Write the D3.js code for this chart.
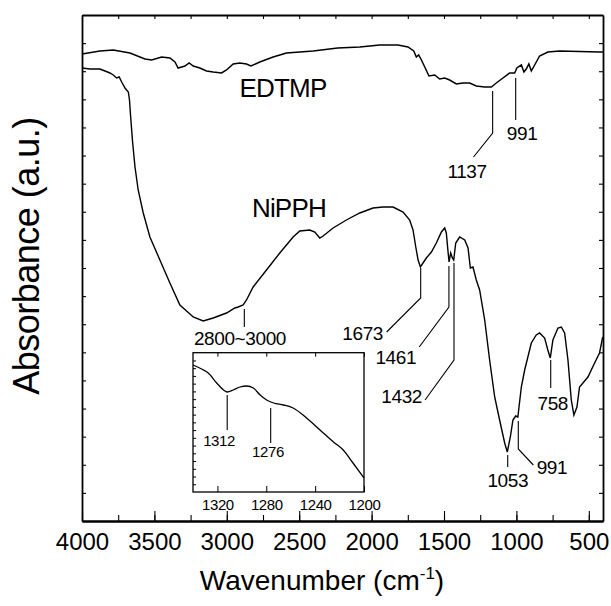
<!DOCTYPE html>
<html>
<head>
<meta charset="utf-8">
<script src="https://cdn.jsdelivr.net/npm/d3@7"></script>
<style>
body { margin: 0; background: #fff; }
text { font-family: "Liberation Sans", Arial, sans-serif; fill: #000; }
</style>
</head>
<body>
<svg id="drawing_region"></svg>
<script>
// EDTMP spectrum (wavenumber / absorbance a.u.)
const edtmpWn = [4000,3876,3784,3669,3565,3519,3450,3393,3358,3336,3312,3289,3260,3232,3186,3140,3094,3036,3002,2956,
  2910,2864,2834,2772,2680,2588,2496,2404,2234,2082,1944,1818,1749,1709,1691,1675,1656,1633,1604,1564,
  1530,1495,1461,1415,1369,1323,1277,1219,1173,1139,1093,1047,1012,997,966,948,932,914,897,874,
  840,783,702,426,402];
const edtmpAbs = [4.67,4.70,4.71,4.68,4.62,4.61,4.64,4.63,4.59,4.53,4.54,4.55,4.58,4.55,4.53,4.50,4.49,4.48,4.51,4.57,
  4.58,4.57,4.55,4.59,4.64,4.68,4.69,4.70,4.73,4.74,4.76,4.76,4.74,4.70,4.64,4.66,4.61,4.54,4.45,4.46,
  4.42,4.43,4.41,4.37,4.38,4.38,4.35,4.34,4.34,4.38,4.43,4.48,4.48,4.53,4.56,4.49,4.52,4.57,4.50,4.56,
  4.65,4.69,4.70,4.69,4.69];

// NiPPH spectrum
const nipphWn = [4000,3945,3876,3841,3807,3784,3761,3743,3726,3703,3692,3680,3672,3664,3650,3634,3612,3577,3531,3462,
  3393,3324,3232,3163,3094,3002,2944,2922,2887,2864,2818,2726,2634,2542,2496,2427,2392,2358,2335,2266,
  2174,2082,1990,1921,1852,1783,1737,1714,1695,1679,1663,1645,1622,1587,1553,1518,1495,1484,1472,1465,
  1454,1442,1433,1419,1392,1357,1334,1318,1300,1277,1254,1219,1185,1150,1116,1081,1063,1042,1024,1005,
  990,966,943,897,863,840,805,783,766,748,713,690,667,644,621,603,582,564,506,460,
  426,404];
const nipphAbs = [4.53,4.52,4.52,4.50,4.48,4.46,4.43,4.44,4.39,4.33,4.31,4.29,4.21,4.04,3.78,3.54,3.31,3.08,2.84,2.61,
  2.38,2.16,2.04,2.00,2.03,2.08,2.13,2.14,2.16,2.21,2.34,2.51,2.68,2.84,2.90,2.91,2.89,2.83,2.85,2.93,
  3.01,3.08,3.13,3.14,3.14,3.09,3.01,2.91,2.74,2.61,2.54,2.58,2.63,2.69,2.78,2.89,2.93,2.88,2.69,2.59,
  2.68,2.63,2.61,2.78,2.84,2.81,2.73,2.53,2.54,2.41,2.31,2.01,1.61,1.24,1.01,0.78,0.69,0.84,1.01,1.05,
  1.04,1.34,1.51,1.78,1.86,1.88,1.83,1.71,1.63,1.81,1.93,1.94,1.88,1.61,1.21,1.06,1.14,1.34,1.44,1.58,
  1.68,1.84];

// inset: NiPPH 1340-1200 cm-1
const insetWn = [1340,1333,1327.5,1320.6,1315,1312,1307,1301.5,1296,1290.6,1285,1279.7,1274,1266,1258,1247,1236,1225,1217,1209,1200];
const insetAbs = [1.27,1.23,1.19,1.09,1.02,1.00,1.02,1.05,1.06,1.04,0.97,0.92,0.89,0.87,0.84,0.74,0.62,0.50,0.42,0.29,0.14];

// tick labels
const xMajorTicks = [4000,3500,3000,2500,2000,1500,1000,500];
const insetTicks = [1320,1280,1240,1200];

// peak marks: line from top to bottom at wn, optional elbow, label
const mainMarks = [
  { label: '1137', wn: 1164, top: 4.30, bottom: 3.88, ewn: 1296, ey: 3.64, twn: 1341, ty: 3.43, anchor: 'middle' },
  { label: '991', wn: 1005, top: 4.43, bottom: 4.01, twn: 961, ty: 3.81, anchor: 'middle' },
  { label: '2800~3000', wn: 2879, top: 2.12, bottom: 1.94, twn: 2909, ty: 1.76, anchor: 'middle' },
  { label: '1673', wn: 1661, top: 2.53, bottom: 2.23, ewn: 1896, ey: 1.89, twn: 1921, ty: 1.81, anchor: 'end' },
  { label: '1461', wn: 1466, top: 2.55, bottom: 2.14, ewn: 1671, ey: 1.74, twn: 1693, ty: 1.57, anchor: 'end' },
  { label: '1432', wn: 1431, top: 2.58, bottom: 1.61, ewn: 1631, ey: 1.21, twn: 1652, ty: 1.18, anchor: 'end' },
  { label: '758', wn: 763, top: 1.61, bottom: 1.33, twn: 749, ty: 1.11, anchor: 'middle' },
  { label: '1053', wn: 1060, top: 0.66, bottom: 0.54, twn: 1060, ty: 0.34, anchor: 'middle' },
  { label: '991', wn: 987, top: 1.00, bottom: 0.72, ewn: 883, ey: 0.56, twn: 860, ty: 0.47, anchor: 'start' }
];
const insetMarks = [
  { label: '1312', wn: 1312, top: 0.97, bottom: 0.62, twn: 1318.7, ty: 0.46, anchor: 'middle' },
  { label: '1276', wn: 1276.4, top: 0.84, bottom: 0.49, twn: 1278.6, ty: 0.35, anchor: 'middle' }
];
const curveLabels = [
  { label: 'EDTMP', wn: 2612, y: 4.24 },
  { label: 'NiPPH', wn: 2571, y: 3.04 }
];

class FtirChart {
  constructor(config) {
    this.config = config;
    this.init();
  }

  init() {
    let self = this;
    const c = self.config;
    self.inner_width = c.width - c.margin.left - c.margin.right;
    self.inner_height = c.height - c.margin.top - c.margin.bottom;

    self.svg = d3.select(c.parent)
      .attr('width', c.width)
      .attr('height', c.height);
    self.chart = self.svg.append('g')
      .attr('transform', `translate(${c.margin.left}, ${c.margin.top})`);

    self.xscale = d3.scaleLinear().domain([4000, 402]).range([0, self.inner_width]);
    self.yscale = d3.scaleLinear().domain([0, 5.06]).range([self.inner_height, 0]);
  }

  render() {
    let self = this;
    const w = self.inner_width, h = self.inner_height;
    const ch = self.chart;

    // axes (ticks point inward)
    const minor = d3.range(4000, 401, -250);
    ch.append('g').attr('transform', `translate(0, ${h})`)
      .call(d3.axisBottom(self.xscale).tickValues(minor).tickSize(-6).tickSizeOuter(0).tickFormat(''));
    ch.append('g').attr('transform', `translate(0, ${h})`)
      .call(d3.axisBottom(self.xscale).tickValues(xMajorTicks).tickSize(-10).tickSizeOuter(0).tickPadding(12)
        .tickFormat(d3.format('d')))
      .selectAll('text').attr('font-size', 24);
    ch.append('g')
      .call(d3.axisTop(self.xscale).tickValues(minor).tickSize(-4).tickSizeOuter(0).tickFormat(''));
    const yt = d3.range(0, 18).map(i => i * 5.06 / 18);
    ch.append('g')
      .call(d3.axisLeft(self.yscale).tickValues(yt).tickSize(-4).tickSizeOuter(0).tickFormat(''));
    ch.append('g').attr('transform', `translate(${w}, 0)`)
      .call(d3.axisRight(self.yscale).tickValues(yt).tickSize(-4).tickSizeOuter(0).tickFormat(''));
    ch.selectAll('.domain').attr('stroke-width', 1.8);
    ch.selectAll('.tick line').attr('stroke-width', 1.1);
    ch.selectAll('.tick text').attr('font-family', '"Liberation Sans", Arial, sans-serif').attr('fill', '#000');

    const line = d3.line()
      .x(d => self.xscale(d[0]))
      .y(d => self.yscale(d[1]));
    ch.append('path').datum(d3.zip(edtmpWn, edtmpAbs))
      .attr('d', line).attr('fill', 'none').attr('stroke', '#000').attr('stroke-width', 1.5);
    ch.append('path').datum(d3.zip(nipphWn, nipphAbs))
      .attr('d', line).attr('fill', 'none').attr('stroke', '#000').attr('stroke-width', 1.4);

    self.marks(ch, mainMarks, self.xscale, self.yscale, 19);

    ch.selectAll('.curve-label').data(curveLabels).enter().append('text')
      .attr('class', 'curve-label')
      .attr('x', d => self.xscale(d.wn))
      .attr('y', d => self.yscale(d.y))
      .attr('text-anchor', 'middle')
      .attr('font-size', 26)
      .attr('letter-spacing', -0.8)
      .text(d => d.label);

    // axis titles
    const xt = self.svg.append('text')
      .attr('x', 322).attr('y', 590)
      .attr('text-anchor', 'middle')
      .attr('font-size', 28);
    xt.append('tspan').text('Wavenumber (cm');
    xt.append('tspan').attr('font-size', 17).attr('dy', -11).text('-1');
    xt.append('tspan').attr('dy', 11).text(')');

    self.svg.append('text')
      .attr('transform', 'translate(39, 256) rotate(-90)')
      .attr('text-anchor', 'middle')
      .attr('font-size', 36)
      .attr('letter-spacing', -0.5)
      .text('Absorbance (a.u.)');

    self.renderInset();
  }

  marks(g, list, xs, ys, fontSize) {
    g.selectAll(null).data(list).enter().append('path')
      .attr('d', d => {
        let p = `M${xs(d.wn)},${ys(d.top)}L${xs(d.wn)},${ys(d.bottom)}`;
        if (d.ewn !== undefined) p += `L${xs(d.ewn)},${ys(d.ey)}`;
        return p;
      })
      .attr('fill', 'none').attr('stroke', '#000').attr('stroke-width', 1.1);
    g.selectAll(null).data(list).enter().append('text')
      .attr('x', d => xs(d.twn))
      .attr('y', d => ys(d.ty))
      .attr('text-anchor', d => d.anchor)
      .attr('font-size', fontSize)
      .attr('letter-spacing', -0.4)
      .text(d => d.label);
  }

  renderInset() {
    let self = this;
    const iw = 171, ih = 139.3;
    const g = self.svg.append('g').attr('transform', 'translate(193, 352.7)');
    const xs = d3.scaleLinear().domain([1340, 1200]).range([0, iw]);
    const ys = d3.scaleLinear().domain([0, 1.393]).range([ih, 0]);

    g.append('rect').attr('width', iw).attr('height', ih)
      .attr('fill', '#fff').attr('stroke', '#000').attr('stroke-width', 1.3);
    g.append('g').attr('transform', `translate(0, ${ih})`)
      .call(d3.axisBottom(xs).tickValues(insetTicks).tickSize(-6).tickSizeOuter(0).tickPadding(7)
        .tickFormat(d3.format('d')))
      .selectAll('text').attr('font-size', 15).attr('letter-spacing', -0.4);
    g.append('g')
      .call(d3.axisTop(xs).tickValues(insetTicks).tickSize(-4).tickSizeOuter(0).tickFormat(''));
    g.append('g')
      .call(d3.axisLeft(ys).tickValues(d3.range(1, 18).map(i => i * 1.393 / 18)).tickSize(-3).tickSizeOuter(0).tickFormat(''));
    g.selectAll('.domain').remove();
    g.selectAll('.tick text').attr('font-family', '"Liberation Sans", Arial, sans-serif').attr('fill', '#000');

    const line = d3.line()
      .x(d => xs(d[0]))
      .y(d => ys(d[1]))
      .curve(d3.curveMonotoneX);
    g.append('path').datum(d3.zip(insetWn, insetAbs))
      .attr('d', line).attr('fill', 'none').attr('stroke', '#000').attr('stroke-width', 1.3);

    self.marks(g, insetMarks, xs, ys, 15);
  }
}

const chart = new FtirChart({
  parent: '#drawing_region',
  width: 611,
  height: 606,
  margin: { top: 15, right: 8, bottom: 85, left: 82 }
});
chart.render();
</script>
</body>
</html>
